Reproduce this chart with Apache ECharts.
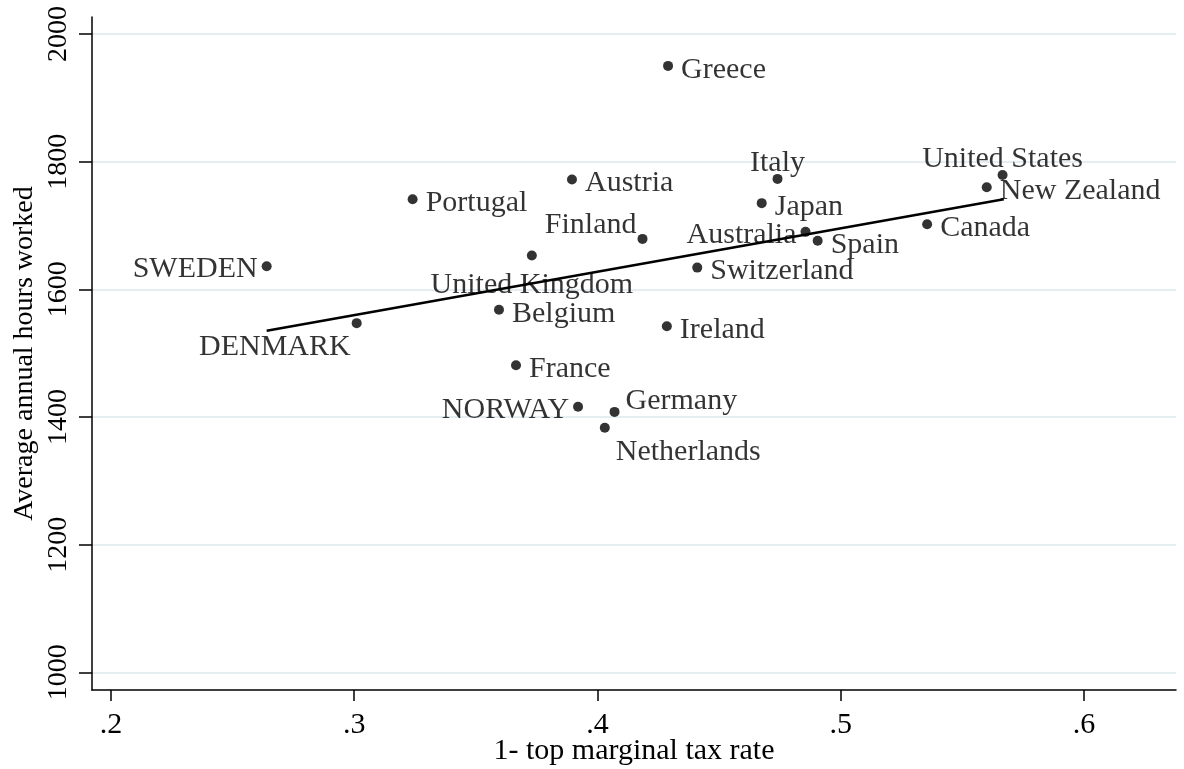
<!DOCTYPE html>
<html>
<head>
<meta charset="utf-8">
<script src="https://cdn.jsdelivr.net/npm/echarts@6/dist/echarts.min.js"></script>
<style>
  html, body { margin: 0; padding: 0; background: #fff; }
  #chart { width: 1184px; height: 769px; }
</style>
</head>
<body>
<div id="chart"></div>
<script>
// data
const countries = ['SWEDEN', 'DENMARK', 'Greece', 'Austria', 'Portugal', 'Finland', 'United Kingdom',
  'Belgium', 'Ireland', 'Switzerland', 'France', 'NORWAY', 'Germany', 'Netherlands', 'Italy',
  'Japan', 'Australia', 'Spain', 'Canada', 'New Zealand', 'United States']
const taxShare = [0.264, 0.301, 0.429, 0.3895, 0.324, 0.4185, 0.373,
  0.3595, 0.4285, 0.441, 0.3665, 0.392, 0.407, 0.403, 0.474,
  0.4675, 0.4855, 0.4905, 0.5355, 0.56, 0.5665]
const hours = [1636, 1547, 1950, 1772, 1741, 1679, 1653,
  1568, 1542, 1634, 1481, 1416, 1408, 1383, 1773,
  1735, 1690, 1676, 1702, 1760, 1779]

// fitted line end points
const fitX = [0.264, 0.567]
const fitY = [1535, 1741]

const xTicks = [0.2, 0.3, 0.4, 0.5, 0.6]
const yTicks = [1000, 1200, 1400, 1600, 1800, 2000]

// marker label clock positions (like stata mlabvpos), 3 is default
const labelClock = {
  SWEDEN: 9, DENMARK: 7, Finland: 10, 'United Kingdom': 6, NORWAY: 9,
  Germany: 2, Netherlands: 4, Italy: 12, Australia: 9, 'United States': 12
}

const FONT = 'Liberation Serif'

function labelFor(name) {
  const c = labelClock[name] || 3
  switch (c) {
    case 9: return { position: 'left', distance: 4, offset: [0, 3] }
    case 12: return { position: 'top', distance: 0, offset: [0, 4] }
    case 6: return { position: 'bottom', distance: 8, offset: [0, 2] }
    case 2: return { position: 'right', distance: 6, offset: [0, -11] }
    case 4: return { position: 'right', distance: 6, offset: [0, 24] }
    case 10: return { position: 'left', distance: 1, offset: [0, -14] }
    case 7: return { position: 'left', distance: 1, offset: [0, 24] }
    default: return { position: 'right', distance: 8, offset: [0, 4] }
  }
}

const chart = echarts.init(document.getElementById('chart'))

const option = {
  animation: false,
  grid: { left: 92, right: 8, top: 17, bottom: 79, outerBoundsMode: 'none' },
  xAxis: {
    type: 'value',
    min: 0.1922,
    max: 0.6378,
    name: '1- top marginal tax rate',
    nameLocation: 'middle',
    nameGap: 46,
    nameMoveOverlap: false,
    nameTextStyle: { color: '#000', fontFamily: FONT, fontSize: 30 },
    axisLine: { lineStyle: { color: '#000', width: 1.5 } },
    axisTick: { customValues: xTicks, length: 11, lineStyle: { color: '#000', width: 1.5 } },
    axisLabel: {
      customValues: xTicks,
      margin: 20,
      color: '#000',
      fontFamily: FONT,
      fontSize: 30,
      formatter: v => String(v).replace(/^0/, '')
    },
    splitLine: { show: false }
  },
  yAxis: {
    type: 'value',
    min: 972.3,
    max: 2026.6,
    name: 'Average annual hours worked',
    nameLocation: 'middle',
    nameGap: 53,
    nameMoveOverlap: false,
    nameTextStyle: { color: '#000', fontFamily: FONT, fontSize: 28 },
    axisLine: { show: true, lineStyle: { color: '#000', width: 1.5 } },
    axisTick: { show: true, customValues: yTicks, length: 13, lineStyle: { color: '#000', width: 1.5 } },
    axisLabel: {
      customValues: yTicks,
      rotate: 90,
      margin: 19,
      color: '#000',
      fontFamily: FONT,
      fontSize: 28,
      formatter: v => String(v)
    },
    splitLine: { show: true, lineStyle: { color: '#e4eef1', width: 2 } }
  },
  series: [
    {
      type: 'scatter',
      symbolSize: 10,
      itemStyle: { color: '#000' },
      label: {
        show: true,
        color: '#000',
        fontFamily: FONT,
        fontSize: 30,
        formatter: p => p.name
      },
      data: countries.map((c, i) => ({
        name: c,
        value: [taxShare[i], hours[i]],
        label: labelFor(c)
      })),
      z: 3
    },
    {
      type: 'line',
      symbol: 'none',
      lineStyle: { color: '#000', width: 2.5 },
      data: fitX.map((x, i) => [x, fitY[i]]),
      z: 2
    }
  ]
}

chart.setOption(option)
</script>
</body>
</html>
